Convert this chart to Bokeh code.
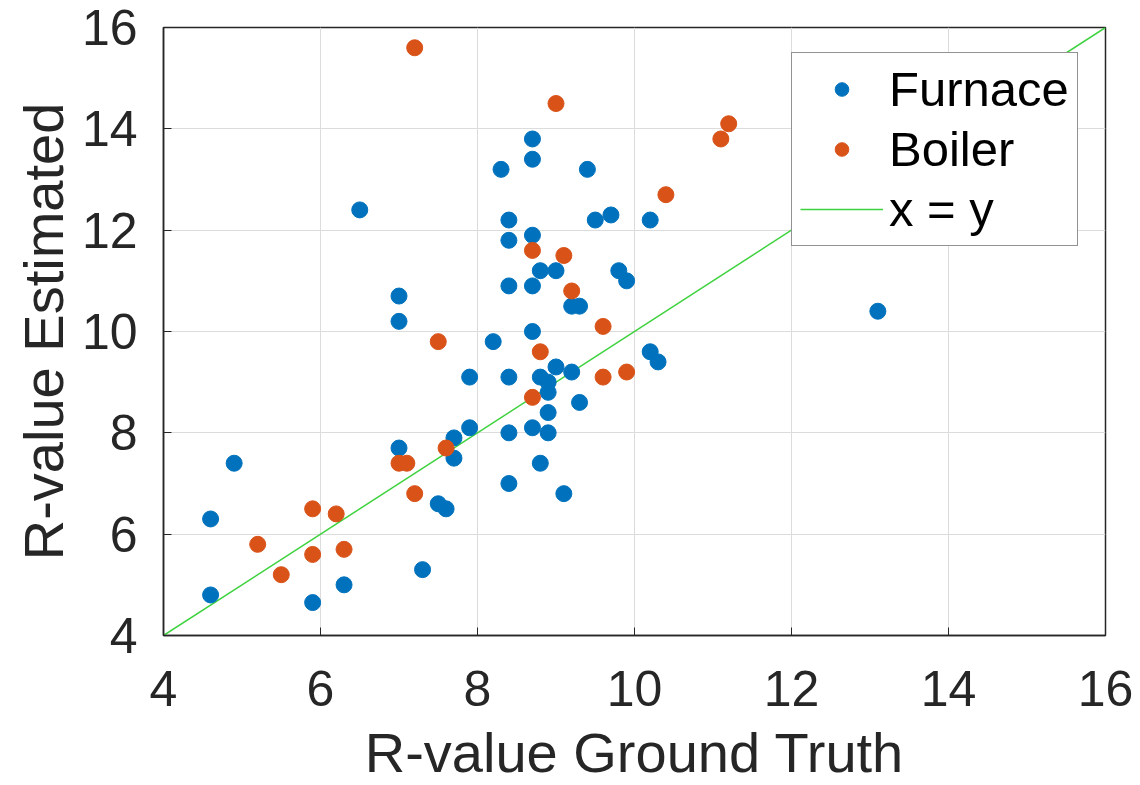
from bokeh.plotting import figure
from bokeh.models import Range1d, FixedTicker, Legend, LegendItem
from bokeh.embed import file_html
from bokeh.resources import INLINE

furnace_x = [8.7, 8.7, 8.3, 9.4, 6.5, 8.4, 9.5, 9.7, 10.2, 8.4, 8.7, 8.8, 9.0, 9.8, 9.9,
             8.4, 8.7, 9.2, 9.3, 7.0, 7.0, 8.7, 13.1, 8.2, 9.0, 9.2, 7.9, 8.4, 8.8, 8.9,
             8.9, 9.3, 8.9, 7.9, 8.4, 8.7, 8.9, 7.7, 7.7, 7.0, 8.8, 8.4, 9.1, 7.5, 7.6,
             4.9, 4.6, 7.3, 6.3, 4.6, 5.9, 10.2, 10.3]
furnace_y = [13.8, 13.4, 13.2, 13.2, 12.4, 12.2, 12.2, 12.3, 12.2, 11.8, 11.9, 11.2, 11.2, 11.2, 11.0,
             10.9, 10.9, 10.5, 10.5, 10.7, 10.2, 10.0, 10.4, 9.8, 9.3, 9.2, 9.1, 9.1, 9.1, 9.0,
             8.8, 8.6, 8.4, 8.1, 8.0, 8.1, 8.0, 7.9, 7.5, 7.7, 7.4, 7.0, 6.8, 6.6, 6.5,
             7.4, 6.3, 5.3, 5.0, 4.8, 4.65, 9.6, 9.4]

boiler_x = [7.2, 9.0, 11.2, 11.1, 10.4, 8.7, 9.1, 9.2, 9.6, 7.5, 8.8, 9.6, 9.9, 8.7,
            7.6, 7.0, 7.1, 7.2, 5.9, 6.2, 5.2, 5.9, 6.3, 5.5]
boiler_y = [15.6, 14.5, 14.1, 13.8, 12.7, 11.6, 11.5, 10.8, 10.1, 9.8, 9.6, 9.1, 9.2, 8.7,
            7.7, 7.4, 7.4, 6.8, 6.5, 6.4, 5.8, 5.6, 5.7, 5.2]

line_xy = [4, 16]
ticks = [4, 6, 8, 10, 12, 14, 16]

FONT = "Liberation Sans"

p = figure(frame_width=942, frame_height=608, output_backend="svg", toolbar_location=None,
           x_range=Range1d(4, 16), y_range=Range1d(4, 16),
           min_border_left=163, min_border_right=33, min_border_top=27, min_border_bottom=150,
           x_axis_label="R-value Ground Truth", y_axis_label="R-value Estimated")

p.outline_line_color = "#262626"
p.outline_line_width = 1.5
p.background_fill_color = "white"
p.border_fill_color = "white"

for ax in (p.xaxis[0], p.yaxis[0]):
    ax.ticker = FixedTicker(ticks=ticks)
    ax.major_label_text_font = FONT
    ax.major_label_text_font_size = "50px"
    ax.major_label_text_color = "#262626"
    ax.axis_label_text_font = FONT
    ax.axis_label_text_font_size = "56px"
    ax.axis_label_text_font_style = "normal"
    ax.axis_label_text_color = "#262626"
    ax.axis_line_color = "#262626"
    ax.axis_line_width = 1.5
    ax.major_tick_in = 8
    ax.major_tick_out = 0
    ax.major_tick_line_color = "#262626"
    ax.minor_tick_line_color = None

p.xaxis[0].major_label_standoff = 35
p.xaxis[0].axis_label_standoff = 12
p.yaxis[0].major_label_standoff = 26
p.yaxis[0].axis_label_standoff = 4

p.xgrid.ticker = FixedTicker(ticks=ticks)
p.ygrid.ticker = FixedTicker(ticks=ticks)
p.grid.grid_line_color = "#dcdcdc"
p.grid.grid_line_width = 1

r_line = p.line(line_xy, line_xy, line_color="#3fd23f", line_width=1.5)
r_f = p.scatter(furnace_x, furnace_y, size=16, fill_color="#0072BD", line_color="#0072BD")
r_b = p.scatter(boiler_x, boiler_y, size=16, fill_color="#D95319", line_color="#D95319")

legend = Legend(items=[LegendItem(label="Furnace", renderers=[r_f]),
                       LegendItem(label="Boiler", renderers=[r_b]),
                       LegendItem(label="x = y", renderers=[r_line])],
                location=(628, 389))
legend.label_text_font = FONT
legend.label_text_font_size = "49px"
legend.label_text_color = "black"
legend.glyph_width = 83
legend.glyph_height = 34
legend.label_height = 56
legend.label_standoff = 6
legend.spacing = 4
legend.padding = 8
legend.margin = 0
legend.border_line_color = "#262626"
legend.border_line_width = 1.5
legend.background_fill_alpha = 1.0
p.add_layout(legend, "center")

open("out.html", "w").write(file_html(p, INLINE))
